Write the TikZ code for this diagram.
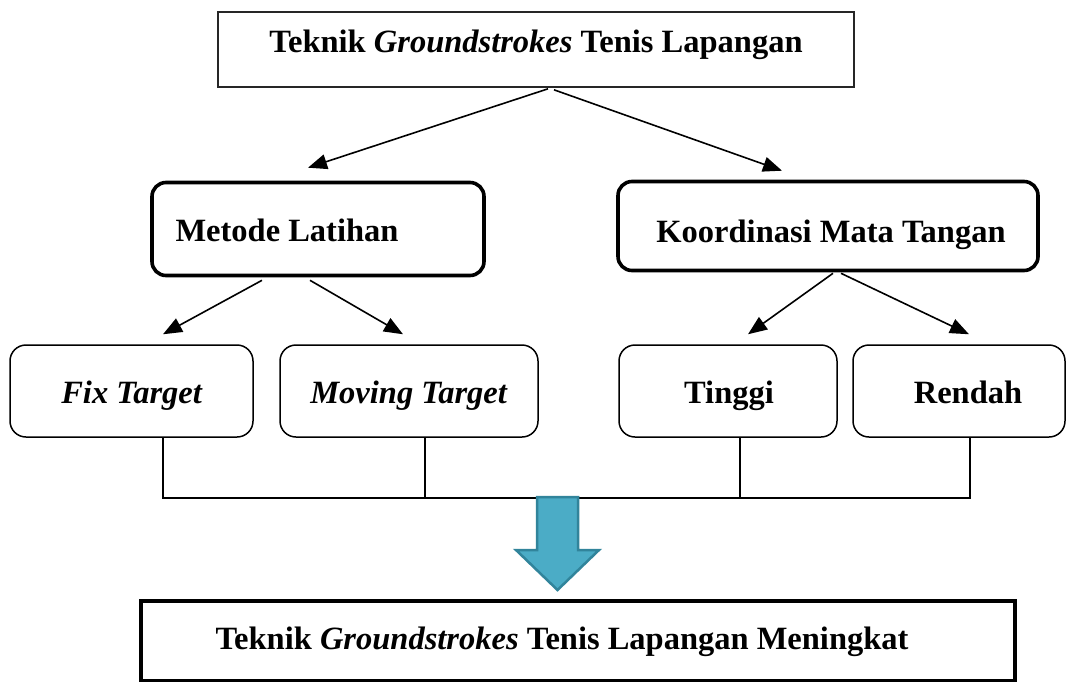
\documentclass[tikz,border=0pt]{standalone}
\usepackage{fontspec}
\setmainfont{Liberation Serif}
\usetikzlibrary{arrows.meta,calc}
\definecolor{arrfill}{HTML}{4BACC6}
\definecolor{arrdraw}{HTML}{31849B}
\tikzset{
  every node/.style={font=\fontsize{32.5}{38}\selectfont\bfseries, inner sep=0pt},
  lbl/.style={anchor=base},
  topbox/.style={draw=black!85, line width=1.6pt, rectangle},
  mainbox/.style={draw=black, line width=3.6pt, rounded corners=14pt},
  subbox/.style={draw=black, line width=1.5pt, rounded corners=16pt, minimum height=92pt},
  endbox/.style={draw=black, line width=3.6pt, rectangle},
  arr/.style={line width=1.6pt, -{Triangle[length=19pt,width=15pt]}},
  link/.style={line width=1.5pt},
  blockarrow/.style={fill=arrfill, draw=arrdraw, line width=2.5pt, line join=miter}
}
\begin{document}
\begin{tikzpicture}[x=1pt,y=-1pt]
\useasboundingbox (0,0) rectangle (1067,681);
% top
\node[topbox, minimum width=636pt, minimum height=75pt] (top) at (536,49.5) {};
\node[lbl] (topT) at (536,52) {Teknik \textit{Groundstrokes} Tenis Lapangan};
% level 2
\node[mainbox, minimum width=332pt, minimum height=93pt] (metode) at (318,229) {};
\node[lbl] (metodeT) at (287,241) {Metode Latihan};
\node[mainbox, minimum width=420pt, minimum height=89pt] (koord) at (828,226) {};
\node[lbl] (koordT) at (831,242) {Koordinasi Mata Tangan};
% level 3
\node[subbox, minimum width=243pt] (fix) at (131.5,391) {};
\node[lbl] (fixT) at (132,403) {\textit{Fix Target}};
\node[subbox, minimum width=258pt] (moving) at (409,391) {};
\node[lbl] (movingT) at (409,403) {\textit{Moving Target}};
\node[subbox, minimum width=218pt] (tinggi) at (728,391) {};
\node[lbl] (tinggiT) at (729,403) {Tinggi};
\node[subbox, minimum width=212pt] (rendah) at (959,391) {};
\node[lbl] (rendahT) at (968,403) {Rendah};
% bottom
\node[endbox, minimum width=874pt, minimum height=80pt] (akhir) at (578,641) {};
\node[lbl] (akhirT) at (562,649) {Teknik \textit{Groundstrokes} Tenis Lapangan Meningkat};
% arrows
\draw[arr] ([xshift=12pt,yshift=-1pt]top.south) -- ([xshift=-10pt,yshift=13pt]metode.north);
\draw[arr] ([xshift=18pt,yshift=-2pt]top.south) -- ([xshift=-46pt,yshift=9pt]koord.north);
\draw[arr] ([xshift=-56pt,yshift=-3pt]metode.south) -- ([xshift=31.5pt,yshift=10pt]fix.north);
\draw[arr] ([xshift=-8pt,yshift=-3pt]metode.south) -- ([xshift=-6pt,yshift=10pt]moving.north);
\draw[arr] ([xshift=5pt,yshift=-1pt]koord.south) -- ([xshift=20pt,yshift=10pt]tinggi.north);
\draw[arr] ([xshift=13pt,yshift=-1pt]koord.south) -- ([xshift=10pt,yshift=10pt]rendah.north);
% joining lines
\coordinate (hl) at (0,498);
\coordinate (fixs) at ([xshift=31.5pt]fix.south);
\coordinate (movs) at ([xshift=16pt]moving.south);
\coordinate (tins) at ([xshift=12pt]tinggi.south);
\coordinate (rens) at ([xshift=11pt]rendah.south);
\draw[link] (fixs) -- (fixs |- hl) -- (rens |- hl) -- (rens);
\draw[link] (movs) -- (movs |- hl);
\draw[link] (tins) -- (tins |- hl);
% block arrow
\draw[blockarrow] (537,497) -- (578,497) -- (578,550) -- (599,550) -- (557.5,590) -- (516,550) -- (537,550) -- cycle;
\end{tikzpicture}
\end{document}
